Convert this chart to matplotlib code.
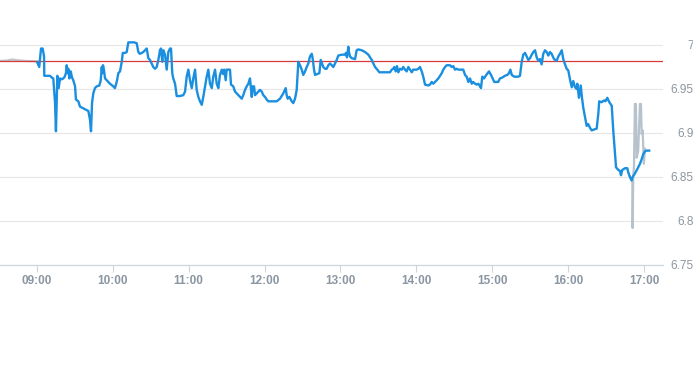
import matplotlib
matplotlib.use("Agg")
import matplotlib.pyplot as plt

# minutes after 09:00 and price
blue_t = [0.5, 2.0, 3.4, 4.7, 5.8, 6.0, 10.5, 11.9, 13.1, 14.5, 15.2, 16.3, 17.4, 18.4, 19.8,
          21.0, 22.1, 23.1, 23.7, 24.5, 25.0, 25.8, 26.9, 27.9, 28.9, 30.3, 31.0, 32.9, 34.2,
          36.8, 39.5, 40.8, 42.1, 42.9, 43.7, 44.7, 46.0, 47.4, 49.5, 50.6, 51.4, 51.8, 52.4,
          53.2, 54.0, 55.3, 57.9, 60.5, 61.8, 63.2, 64.5, 65.8, 67.2, 68.0, 69.8, 71.1, 72.4,
          75.1, 77.0, 79.0, 80.3, 81.4, 83.0, 84.2, 85.6, 86.9, 88.2, 89.5, 92.1, 93.5, 94.8,
          96.1, 97.4, 98.2, 99.2, 100.0, 101.4, 102.7, 104.0, 105.3, 106.1, 107.1, 107.9,
          109.3, 110.6, 113.2, 115.8, 117.2, 118.5, 119.8, 121.1, 122.5, 123.7, 125.1, 126.4,
          127.7, 129.0, 130.4, 131.6, 133.0, 134.3, 135.6, 136.9, 138.3, 139.5, 140.9, 142.2,
          143.5, 144.8, 146.2, 147.2, 148.2, 149.3, 150.1, 152.7, 153.5, 155.3, 156.7, 158.0,
          159.3, 160.6, 162.0, 163.2, 164.6, 165.9, 167.2, 168.5, 169.9, 170.6, 171.7, 172.5,
          173.8, 175.1, 176.4, 177.8, 179.0, 180.4, 181.7, 183.0, 189.6, 192.2, 194.8, 196.7,
          197.5, 198.3, 199.6, 201.5, 202.7, 204.1, 205.4, 206.7, 208.0, 209.4, 210.6, 212.0,
          213.3, 214.6, 215.9, 217.3, 218.0, 219.1, 219.9, 221.7, 223.3, 224.4, 225.4, 226.4,
          227.8, 229.1, 230.4, 231.7, 233.1, 234.3, 235.7, 237.0, 238.3, 241.0, 243.6, 244.3,
          245.1, 246.2, 246.7, 247.5, 248.9, 251.5, 252.8, 254.1, 256.8, 259.4, 262.0, 264.7,
          267.3, 269.1, 270.7, 279.1, 280.5, 281.7, 282.5, 283.6, 284.6, 285.7, 287.0, 288.4,
          289.6, 291.0, 292.3, 293.6, 294.9, 296.3, 297.5, 300.2, 301.5, 302.8, 304.2, 305.4,
          306.8, 309.4, 310.7, 312.1, 313.3, 314.7, 316.0, 317.3, 318.6, 320.0, 321.2, 322.6,
          323.9, 326.5, 327.9, 329.1, 330.5, 331.8, 333.1, 335.2, 337.0, 338.4, 339.7, 341.0,
          342.3, 343.7, 344.9, 346.3, 347.6, 348.9, 350.3, 351.0, 352.0, 353.4, 354.7, 356.3,
          357.3, 358.9, 360.2, 361.5, 364.6, 366.0, 367.8, 369.9, 371.8, 373.1, 374.2, 375.3,
          377.3, 380.5, 381.8, 383.2, 384.4, 385.8, 387.1, 388.4, 389.7, 391.1, 392.3, 393.7,
          395.0, 396.3, 397.6, 398.9, 400.2, 401.6, 402.9, 404.2, 405.5, 406.8, 408.7, 410.8,
          412.1, 413.4, 414.8, 416.0, 417.4, 418.7, 420.0, 421.3, 422.7, 423.9, 425.3, 426.6,
          427.1, 428.4, 429.8, 430.8, 431.8, 433.2, 434.5, 435.8, 437.1, 438.4, 442.4, 443.7,
          444.4, 446.3, 448.2, 449.3, 450.8, 452.4, 454.3, 455.5, 456.9, 457.7, 459.5, 460.8,
          461.6, 462.6, 464.8, 466.6, 467.4, 468.7, 470.0, 470.8, 472.6, 474.5, 476.6, 477.9,
          479.2, 480.5, 481.8, 483.9]
blue_v = [6.980, 6.975, 6.996, 6.996, 6.987, 6.965, 6.965, 6.963, 6.962, 6.934, 6.902, 6.965,
          6.951, 6.962, 6.961, 6.962, 6.964, 6.968, 6.977, 6.968, 6.973, 6.962, 6.970, 6.963,
          6.960, 6.953, 6.938, 6.936, 6.930, 6.928, 6.926, 6.925, 6.915, 6.902, 6.934, 6.945,
          6.951, 6.953, 6.954, 6.960, 6.975, 6.968, 6.977, 6.971, 6.962, 6.960, 6.956, 6.953,
          6.951, 6.958, 6.968, 6.970, 6.981, 6.991, 6.991, 6.992, 7.003, 7.003, 7.003, 7.002,
          6.992, 6.990, 6.991, 6.992, 6.994, 6.996, 6.985, 6.983, 6.975, 6.973, 6.975, 6.983,
          6.994, 6.996, 6.981, 6.994, 6.989, 6.972, 6.992, 6.996, 6.996, 6.968, 6.962, 6.956,
          6.942, 6.942, 6.943, 6.947, 6.964, 6.972, 6.960, 6.951, 6.962, 6.972, 6.949, 6.941,
          6.936, 6.932, 6.941, 6.953, 6.964, 6.972, 6.956, 6.951, 6.964, 6.972, 6.956, 6.951,
          6.966, 6.972, 6.967, 6.972, 6.960, 6.972, 6.972, 6.955, 6.953, 6.947, 6.945, 6.943,
          6.941, 6.939, 6.943, 6.949, 6.953, 6.956, 6.962, 6.941, 6.953, 6.953, 6.943, 6.945,
          6.947, 6.949, 6.947, 6.943, 6.941, 6.938, 6.936, 6.936, 6.939, 6.945, 6.951, 6.943,
          6.939, 6.941, 6.936, 6.934, 6.939, 6.949, 6.981, 6.977, 6.972, 6.966, 6.970, 6.975,
          6.979, 6.987, 6.990, 6.985, 6.972, 6.966, 6.967, 6.968, 6.983, 6.979, 6.975, 6.973,
          6.973, 6.977, 6.979, 6.977, 6.975, 6.979, 6.983, 6.988, 6.989, 6.989, 6.991, 6.986,
          6.998, 6.992, 6.987, 6.985, 6.984, 6.994, 6.995, 6.994, 6.992, 6.989, 6.983, 6.975,
          6.972, 6.969, 6.969, 6.972, 6.973, 6.975, 6.970, 6.976, 6.969, 6.973, 6.972, 6.975,
          6.972, 6.970, 6.975, 6.972, 6.969, 6.972, 6.972, 6.973, 6.975, 6.970, 6.964, 6.955,
          6.954, 6.955, 6.958, 6.956, 6.958, 6.960, 6.962, 6.965, 6.968, 6.972, 6.975, 6.977,
          6.977, 6.975, 6.976, 6.972, 6.973, 6.972, 6.972, 6.972, 6.966, 6.964, 6.958, 6.962,
          6.956, 6.958, 6.956, 6.955, 6.956, 6.953, 6.951, 6.964, 6.962, 6.965, 6.968, 6.970,
          6.966, 6.962, 6.958, 6.958, 6.962, 6.963, 6.965, 6.966, 6.968, 6.972, 6.966, 6.964,
          6.964, 6.965, 6.981, 6.989, 6.991, 6.987, 6.983, 6.985, 6.989, 6.992, 6.994, 6.986,
          6.982, 6.984, 6.978, 6.990, 6.994, 6.992, 6.988, 6.992, 6.990, 6.984, 6.982, 6.987,
          6.990, 6.994, 6.984, 6.978, 6.973, 6.971, 6.961, 6.952, 6.959, 6.952, 6.950, 6.956,
          6.940, 6.954, 6.940, 6.929, 6.918, 6.908, 6.910, 6.906, 6.903, 6.905, 6.922, 6.936,
          6.935, 6.937, 6.936, 6.940, 6.935, 6.931, 6.903, 6.876, 6.861, 6.858, 6.857, 6.852,
          6.858, 6.860, 6.860, 6.855, 6.850, 6.846, 6.850, 6.854, 6.859, 6.865, 6.870, 6.876,
          6.879, 6.880, 6.880]

pre_t = [-29.0, -24.0, -19.0, -15.0, -8.0, 0.5]
pre_v = [6.9820, 6.9822, 6.9835, 6.9825, 6.9818, 6.9815]

post_t = [468.7, 470.6, 470.8, 471.3, 471.9, 472.6, 473.4, 474.0, 475.2, 476.6, 477.4, 477.9,
          478.7, 479.7, 480.5]
post_v = [6.850, 6.846, 6.792, 6.851, 6.863, 6.933, 6.933, 6.872, 6.880, 6.933, 6.933, 6.899,
          6.903, 6.865, 6.882]

prev_close = 6.982
hour_labels = ["09:00", "10:00", "11:00", "12:00", "13:00", "14:00", "15:00", "16:00", "17:00"]
y_ticks = [6.75, 6.8, 6.85, 6.9, 6.95, 7]
y_labels = ["6.75", "6.8", "6.85", "6.9", "6.95", "7"]

plt.rcParams['font.family'] = ['Liberation Sans', 'DejaVu Sans']

fig = plt.figure(figsize=(6.93, 3.65), dpi=100)
ax = fig.add_axes([0, 100 / 365, 663 / 693, 0.28 * 880 / 365])

ax.axhline(prev_close, color='#d83a3a', lw=0.9, zorder=3)
ax.plot(pre_t, pre_v, color='#bcc3c9', lw=1.6, zorder=2)
ax.plot(post_t, post_v, color='#b6c3cc', lw=1.6, zorder=2)
ax.plot(blue_t, blue_v, color='#1a8fe0', lw=1.7, zorder=4)

ax.set_xlim(-29.0, 494.8)
ax.set_ylim(6.75, 7.03)

ax.set_xticks([60 * i for i in range(len(hour_labels))])
ax.set_xticklabels(hour_labels, fontsize=8.5, fontweight='bold', color='#8a96a2')
ax.tick_params(axis='x', length=5, width=0.8, color='#ccd6dd', pad=2.5)

ax.yaxis.tick_right()
ax.set_yticks(y_ticks)
ax.set_yticklabels(y_labels, fontsize=8.5, color='#8c959e', ha='right')
ax.tick_params(axis='y', length=0, pad=22)
ax.grid(axis='y', color='#e6e6e6', lw=0.8)
ax.set_axisbelow(True)

for s in ['top', 'left', 'right']:
    ax.spines[s].set_visible(False)
ax.spines['bottom'].set_color('#ccd6dd')
ax.spines['bottom'].set_linewidth(0.9)

fig.savefig('out.png', dpi=100)
